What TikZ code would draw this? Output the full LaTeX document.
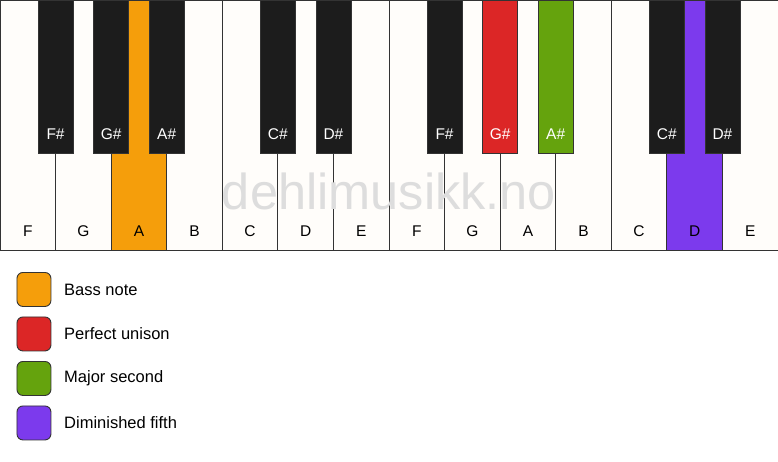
\documentclass[tikz,border=0pt]{standalone}
\usepackage{fontspec}
\setmainfont{Liberation Sans}
\definecolor{keywhite}{HTML}{FFFDFA}
\definecolor{keyblack}{HTML}{1C1C1C}
\definecolor{keyedge}{HTML}{333333}
\definecolor{bassc}{HTML}{F59E0B}
\definecolor{unisonc}{HTML}{DC2626}
\definecolor{secondc}{HTML}{65A30D}
\definecolor{fifthc}{HTML}{7C3AED}
\definecolor{wmark}{HTML}{DDDDDD}
\tikzset{
  whitekey/.style={draw=keyedge, line width=0.9pt, fill=keywhite, minimum width=55.57pt, minimum height=250pt, inner sep=0pt, outer sep=0pt, anchor=north west},
  blackkey/.style={draw=keyedge, line width=0.6pt, fill=keyblack, minimum width=35pt, minimum height=153pt, inner sep=0pt, outer sep=0pt, anchor=north},
  wlabel/.style={font=\fontsize{15.5}{15.5}\selectfont, text=black, anchor=base},
  blabel/.style={font=\fontsize{15.5}{15.5}\selectfont, text=white, anchor=base},
  legbox/.style={draw=keyedge, line width=0.9pt, rounded corners=6pt, minimum width=34pt, minimum height=34pt, inner sep=0pt, anchor=north west},
  legtext/.style={font=\fontsize{16.5}{16.5}\selectfont, anchor=west, inner sep=0pt}
}
\begin{document}
\begin{tikzpicture}[x=1pt,y=-1pt]
\useasboundingbox[fill=white] (0,0) rectangle (778,461);
% white keys
\foreach \n/\lab/\col [count=\i from 0] in {w1/F/keywhite,w2/G/keywhite,w3/A/bassc,w4/B/keywhite,w5/C/keywhite,w6/D/keywhite,w7/E/keywhite,w8/F/keywhite,w9/G/keywhite,w10/A/keywhite,w11/B/keywhite,w12/C/keywhite,w13/D/fifthc,w14/E/keywhite}{
  \node[whitekey, fill=\col] (\n) at ({\i*55.57},0) {};
  \node[wlabel] (\n l) at ({\i*55.57+27.78},236) {\lab};
}
% watermark
\node[font=\fontsize{50.5}{50.5}\selectfont, text=wmark, anchor=base] (wm) at (389,209) {dehlimusikk.no};
% black keys
\foreach \n/\lab/\b/\col in {b1/F\#/1/keyblack,b2/G\#/2/keyblack,b3/A\#/3/keyblack,b4/C\#/5/keyblack,b5/D\#/6/keyblack,b6/F\#/8/keyblack,b7/G\#/9/unisonc,b8/A\#/10/secondc,b9/C\#/12/keyblack,b10/D\#/13/keyblack}{
  \node[blackkey, fill=\col] (\n) at ({\b*55.57},0) {};
  \node[blabel] (\n l) at ({\b*55.57},139) {\lab};
}
% legend
\foreach \n/\col/\txt [count=\j from 0] in {l1/bassc/Bass note,l2/unisonc/Perfect unison,l3/secondc/Major second,l4/fifthc/Diminished fifth}{
  \node[legbox, fill=\col] (\n) at (16.5,{272+\j*44.5}) {};
  \node[legtext] (\n t) at (64,{289.5+\j*44.5}) {\txt};
}
\end{tikzpicture}
\end{document}
